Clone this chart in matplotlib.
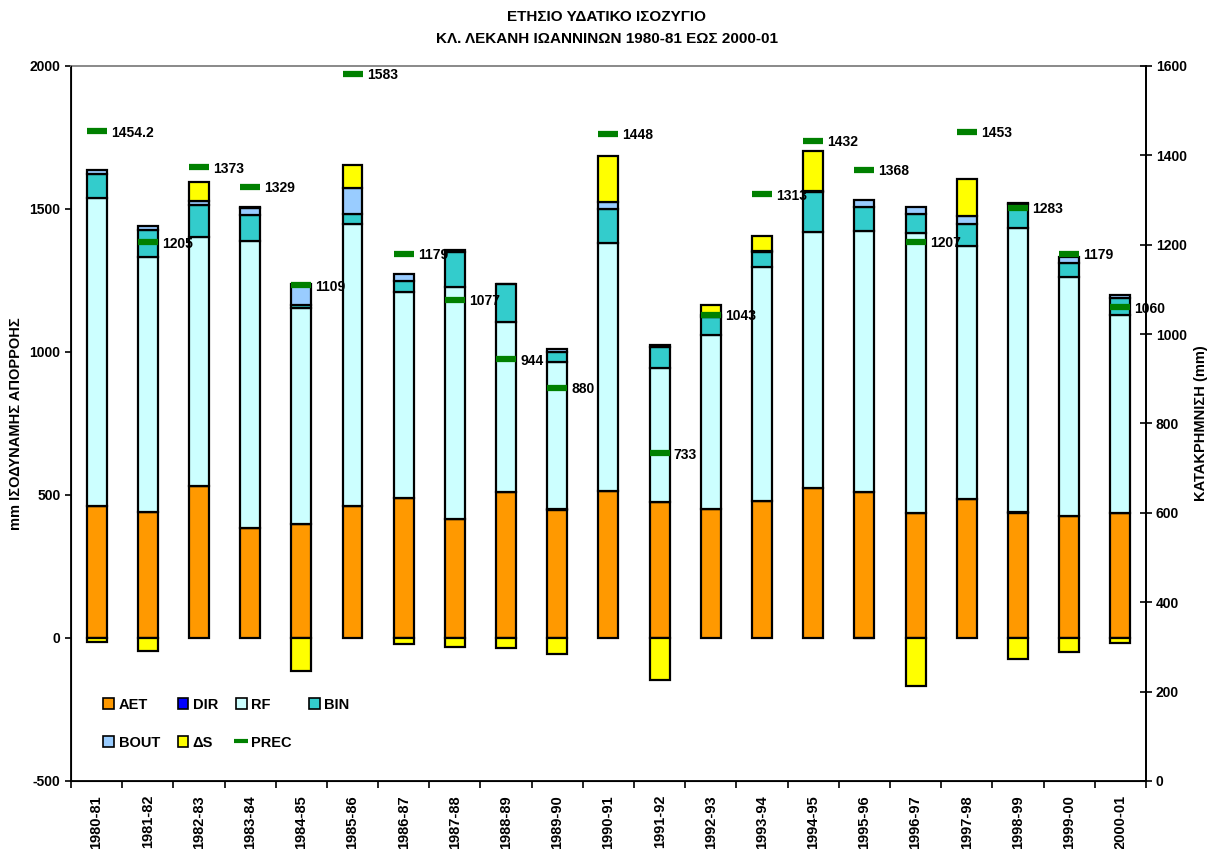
import numpy as np
import matplotlib.pyplot as plt
from matplotlib.patches import Patch
from matplotlib.lines import Line2D

plt.rcParams['font.family'] = ['Liberation Sans', 'DejaVu Sans']
plt.rcParams['font.weight'] = 'bold'
plt.rcParams['axes.labelweight'] = 'bold'
plt.rcParams['axes.unicode_minus'] = False

years = ["1980-81", "1981-82", "1982-83", "1983-84", "1984-85", "1985-86", "1986-87",
         "1987-88", "1988-89", "1989-90", "1990-91", "1991-92", "1992-93", "1993-94",
         "1994-95", "1995-96", "1996-97", "1997-98", "1998-99", "1999-00", "2000-01"]

# water balance components (mm equivalent runoff)
aet = [462, 442, 531, 384, 397, 462, 491, 417, 510, 447, 515, 477, 451, 480, 526, 509, 438, 486, 436, 427, 436]
dir_ = [0, 0, 0, 0, 0, 0, 0, 0, 0, 5, 0, 0, 0, 0, 0, 0, 0, 0, 3, 0, 0]
rf = [1075, 889, 872, 1005, 758, 984, 720, 810, 595, 512, 867, 468, 607, 818, 895, 915, 977, 885, 993, 834, 693]
bin_ = [84, 96, 111, 90, 8, 36, 38, 124, 133, 37, 119, 71, 64, 50, 138, 84, 68, 75, 87, 51, 60]
bout = [15, 14, 15, 24, 74, 91, 25, 6, 0, 10, 25, 7, 8, 6, 3, 23, 23, 31, 3, 19, 11]
ds = [-15, -45, 65, 3, -115, 81, -22, -30, -36, -57, 159, -147, 36, 53, 142, 0, -167, 129, -73, -50, -17]

# annual precipitation (mm), right axis
prec = [1454.2, 1205, 1373, 1329, 1109, 1583, 1179, 1077, 944, 880, 1448, 733, 1043,
        1313, 1432, 1368, 1207, 1453, 1283, 1179, 1060]
prec_labels = ["1454.2", "1205", "1373", "1329", "1109", "1583", "1179", "1077", "944", "880",
               "1448", "733", "1043", "1313", "1432", "1368", "1207", "1453", "1283", "1179", "1060"]

colors = {
    "AET": "#FF9900",
    "DIR": "#0000FF",
    "RF": "#CCFFFF",
    "BIN": "#33CCCC",
    "BOUT": "#99CCFF",
    "ΔS": "#FFFF00",
}

fig = plt.figure(figsize=(12.11, 8.49), dpi=100)
ax = fig.add_axes([0.0586, 0.0801, 0.8877, 0.8422])

x = np.arange(len(years))
w = 0.39
edge = dict(edgecolor="black", linewidth=1.6)

bottom = np.zeros(len(years))
for name, vals in [("AET", aet), ("DIR", dir_), ("RF", rf), ("BIN", bin_), ("BOUT", bout)]:
    vals = np.array(vals, dtype=float)
    ax.bar(x, vals, w, bottom=bottom, color=colors[name], **edge)
    bottom += vals

# storage change: positive on top of the stack, negative below zero
ds = np.array(ds, dtype=float)
ds_bottom = np.where(ds > 0, bottom, 0)
ax.bar(x, ds, w, bottom=ds_bottom, color=colors["ΔS"], **edge)

ax.set_xlim(-0.5, len(years) - 0.5)
ax.set_ylim(-500, 2000)
ax.set_yticks(np.arange(-500, 2001, 500))
ax.tick_params(axis="y", labelsize=10, length=4, width=1.2, direction="out")
ax.set_xticks(x)
ax.set_xticklabels(years, rotation=90, fontsize=10.5)
ax.set_xticks(np.arange(-0.5, len(years), 1), minor=True)
ax.tick_params(axis="x", which="major", length=0, pad=10)
ax.tick_params(axis="x", which="minor", length=5, width=1.2, direction="out")
ax.set_ylabel("mm ΙΣΟΔΥΝΑΜΗΣ ΑΠΟΡΡΟΗΣ", fontsize=10.5, labelpad=5)

for s in ["left", "bottom", "right"]:
    ax.spines[s].set_linewidth(1.3)
ax.spines["top"].set_color("#808080")
ax.spines["top"].set_linewidth(1.3)

ax2 = ax.twinx()
ax2.set_ylim(0, 1600)
ax2.set_yticks(np.arange(0, 1601, 200))
ax2.tick_params(axis="y", labelsize=10, length=8, width=1.2, direction="inout", pad=3)
ax2.set_ylabel("ΚΑΤΑΚΡΗΜΝΙΣΗ (mm)", fontsize=10.5, labelpad=5)
ax2.spines["right"].set_linewidth(1.3)
ax2.spines["top"].set_visible(False)

ax2.plot(x, prec, linestyle="none", marker="_", markersize=14, markeredgewidth=4.5, color="#008000")
for xi, p, lab in zip(x, prec, prec_labels):
    ax2.annotate(lab, (xi + w / 2, p), xytext=(3, -1), textcoords="offset points",
                 ha="left", va="center", fontsize=10)

fig.suptitle("ΕΤΗΣΙΟ ΥΔΑΤΙΚΟ ΙΣΟΖΥΓΙΟ\nΚΛ. ΛΕΚΑΝΗ ΙΩΑΝΝΙΝΩΝ 1980-81 ΕΩΣ 2000-01",
             x=0.501, y=0.988, fontsize=11, fontweight="bold", linespacing=1.75)

def sq(c):
    return Patch(facecolor=c, edgecolor="black", linewidth=1.2)

handles = [sq(colors["AET"]), sq(colors["BOUT"]), sq(colors["DIR"]), sq(colors["ΔS"]),
           sq(colors["RF"]),
           Line2D([], [], linestyle="none", marker="_", markersize=10, markeredgewidth=3, color="#008000"),
           sq(colors["BIN"])]
labels = ["AET", "BOUT", "DIR", "ΔS", "RF", "PREC", "BIN"]
ax.legend(handles, labels, ncol=4, frameon=False, fontsize=10.5,
          loc="upper left", bbox_to_anchor=(0.018, 0.135),
          handlelength=0.75, handleheight=0.75, handletextpad=0.3,
          labelspacing=1.65, columnspacing=1.2)

fig.savefig("out.png", dpi=100)
